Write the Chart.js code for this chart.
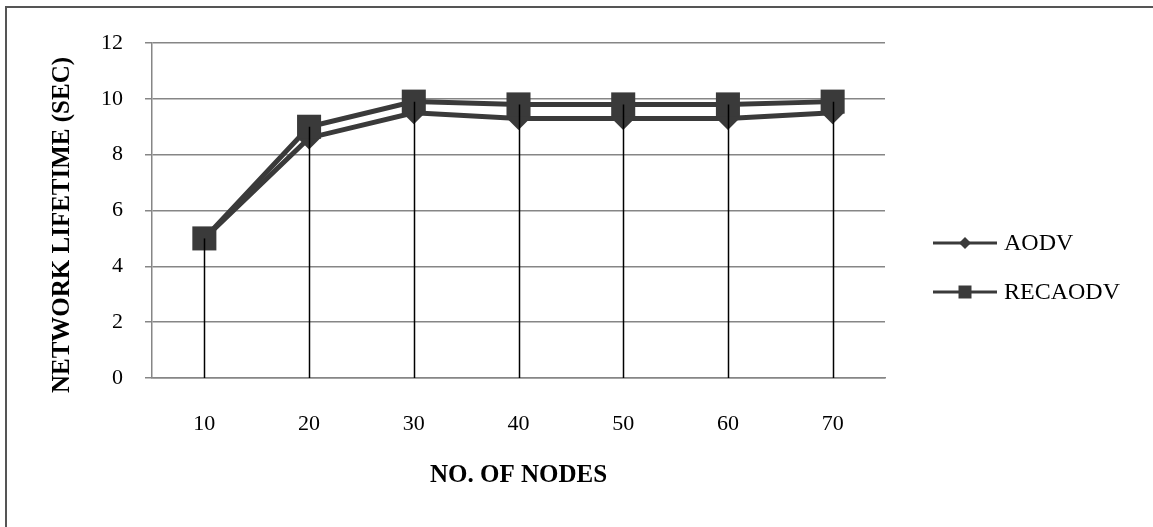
<!DOCTYPE html>
<html>
<head>
<meta charset="utf-8">
<script src="https://cdn.jsdelivr.net/npm/chart.js@4/dist/chart.umd.min.js"></script>
<style>
  html, body { margin: 0; padding: 0; background: #fff; overflow: hidden; }
  #wrap { position: relative; width: 1153px; height: 527px; }
  #frame { position: absolute; left: 5px; top: 6px; width: 1200px; height: 600px; border: 2px solid #555; box-sizing: border-box; }
  canvas { position: absolute; left: 0; top: 0; }
</style>
</head>
<body>
<div id="wrap">
  <div id="frame"></div>
  <canvas id="myChart" width="1153" height="527"></canvas>
</div>
<script>
const nodes = ["10", "20", "30", "40", "50", "60", "70"];
const aodv = [5.0, 8.6, 9.5, 9.3, 9.3, 9.3, 9.5];
const recaodv = [5.0, 9.0, 9.9, 9.8, 9.8, 9.8, 9.9];
const yTitle = "NETWORK LIFETIME (SEC)";
const xTitle = "NO. OF NODES";

const serif = "'Liberation Serif', 'Times New Roman', serif";
const lineColor = "#3a3a3a";

// vertical drop lines from the top point of each category down to the axis
const dropLines = {
  id: "dropLines",
  afterDatasetsDraw(chart) {
    const ctx = chart.ctx;
    const x = chart.scales.x;
    const y = chart.scales.y;
    ctx.save();
    ctx.strokeStyle = "#000";
    ctx.lineWidth = 1.5;
    nodes.forEach(function (n, i) {
      const top = Math.max(aodv[i], recaodv[i]);
      const px = Math.round(x.getPixelForValue(i)) + 0.5;
      ctx.beginPath();
      ctx.moveTo(px, y.getPixelForValue(top));
      ctx.lineTo(px, y.getPixelForValue(0));
      ctx.stroke();
    });
    ctx.restore();
  }
};

// y title sits a bit lower than the plot centre, like the original
const sideTitle = {
  id: "sideTitle",
  afterDraw(chart) {
    const ctx = chart.ctx;
    ctx.save();
    ctx.translate(63, 225);
    ctx.rotate(-Math.PI / 2);
    ctx.fillStyle = "#000";
    ctx.font = "bold 25px " + serif;
    ctx.textAlign = "center";
    ctx.textBaseline = "middle";
    ctx.fillText(yTitle, 0, 0);
    ctx.restore();
  }
};

// Excel style legend: line with marker in the middle
const sideLegend = {
  id: "sideLegend",
  afterDraw(chart) {
    const ctx = chart.ctx;
    const x0 = 933, x1 = 997;
    const rows = [243, 292];
    ctx.save();
    chart.data.datasets.forEach(function (ds, i) {
      const yy = rows[i];
      ctx.strokeStyle = lineColor;
      ctx.lineWidth = 3;
      ctx.beginPath();
      ctx.moveTo(x0, yy);
      ctx.lineTo(x1, yy);
      ctx.stroke();
      ctx.fillStyle = lineColor;
      const cx = (x0 + x1) / 2;
      ctx.beginPath();
      if (ds.pointStyle === "rectRot") {
        ctx.moveTo(cx, yy - 6);
        ctx.lineTo(cx + 6, yy);
        ctx.lineTo(cx, yy + 6);
        ctx.lineTo(cx - 6, yy);
        ctx.closePath();
      } else {
        ctx.rect(cx - 6.5, yy - 6.5, 13, 13);
      }
      ctx.fill();
      ctx.fillStyle = "#000";
      ctx.font = "24px " + serif;
      ctx.textBaseline = "middle";
      ctx.textAlign = "left";
      ctx.fillText(ds.label, 1004, yy + 1);
    });
    ctx.restore();
  }
};

const ctx = document.getElementById("myChart").getContext("2d");

const chart = new Chart(ctx, {
  type: "line",
  data: {
    labels: nodes,
    datasets: [
      {
        label: "AODV",
        data: aodv,
        borderColor: lineColor,
        backgroundColor: lineColor,
        borderWidth: 5,
        pointStyle: "rectRot",
        pointRadius: 11.5,
        pointBorderWidth: 0,
        order: 1
      },
      {
        label: "RECAODV",
        data: recaodv,
        borderColor: lineColor,
        backgroundColor: lineColor,
        borderWidth: 5,
        pointStyle: "rect",
        pointRadius: 17,
        pointBorderWidth: 0,
        order: 0
      }
    ]
  },
  options: {
    responsive: false,
    animation: false,
    events: [],
    layout: {
      padding: { left: 10, right: 268, top: 43, bottom: 0 }
    },
    plugins: {
      legend: { display: false },
      tooltip: { enabled: false }
    },
    scales: {
      x: {
        offset: true,
        grid: { display: false },
        border: { display: true, color: "#868686", width: 1.5 },
        ticks: {
          color: "#000",
          padding: 25,
          font: { family: serif, size: 22 }
        },
        title: {
          display: true,
          text: xTitle,
          color: "#000",
          font: { family: serif, size: 25, weight: "bold" },
          padding: { top: 0, bottom: 36 }
        },
        afterFit(scale) {
          scale.height = 527 - 378;
        }
      },
      y: {
        min: 0,
        max: 12,
        ticks: {
          stepSize: 2,
          color: "#000",
          padding: 22,
          font: { family: serif, size: 22 }
        },
        grid: {
          color: "#868686",
          lineWidth: 1.5,
          tickLength: 7
        },
        border: { display: true, color: "#868686", width: 1.5 },
        afterFit(scale) {
          scale.width = 142;
        }
      }
    }
  },
  plugins: [dropLines, sideTitle, sideLegend]
});
</script>
</body>
</html>
